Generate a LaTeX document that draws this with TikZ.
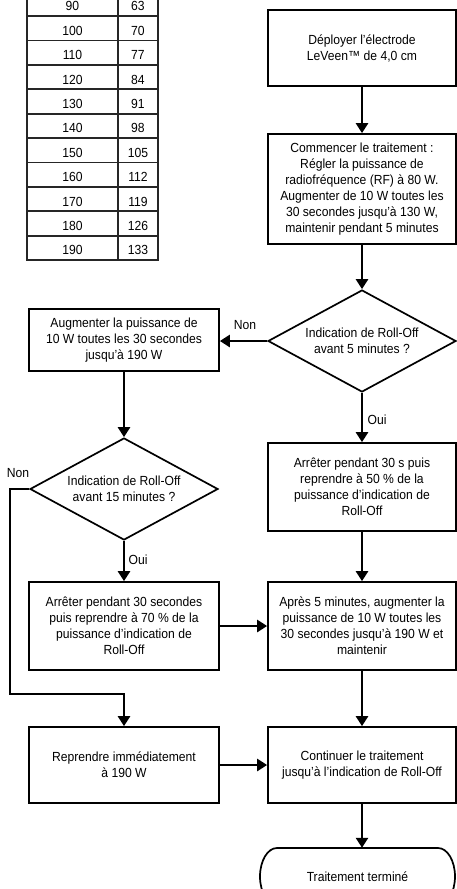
\documentclass[tikz,border=0pt]{standalone}
\usepackage{fontspec}
\setmainfont{Liberation Sans}[FakeStretch=0.92]
\usetikzlibrary{shapes.geometric,arrows.meta}
\tikzset{
 txt/.style={font=\fontsize{13.2}{16}\selectfont, align=center},
 box/.style={draw, line width=1.7pt, txt, inner sep=0pt, minimum width=188pt},
 lbox/.style={box, minimum width=190pt},
 dia/.style={draw, diamond, line width=1.7pt, inner sep=0pt, minimum width=188pt, minimum height=102pt},
 cell/.style={draw=black!85, line width=1.8pt, inner sep=0pt, minimum height=24.4pt, txt, text height=14pt, text depth=0pt},
 conn/.style={line width=2.6pt, -{Triangle[length=10pt,width=12pt]}},
 lbl/.style={txt, inner sep=0pt}
}
\begin{document}
\begin{tikzpicture}[x=1pt,y=-1pt]
\useasboundingbox (0,0) rectangle (457,889);
\clip (0,0) rectangle (457,889);
% table
\foreach \a/\b [count=\i from 0] in {90/63,100/70,110/77,120/84,130/91,140/98,150/105,160/112,170/119,180/126,190/133} {
  \node[cell, minimum width=91pt] (ta\i) at (72.5, {3.8+24.4*\i}) {\a};
  \node[cell, minimum width=40pt] (tb\i) at (138, {3.8+24.4*\i}) {\b};
}
% right column
\node[box, minimum height=76pt] (b1) at (362,48) {Déployer l’électrode\\LeVeen™ de 4,0 cm};
\node[box, minimum height=110pt] (b2) at (362,189) {Commencer le traitement :\\Régler la puissance de\\radiofréquence (RF) à 80 W.\\Augmenter de 10 W toutes les\\30 secondes jusqu’à 130 W,\\maintenir pendant 5 minutes};
\node[dia] (d1) at (362,341) {};
\node[txt] (d1t) at (d1) {Indication de Roll-Off\\avant 5 minutes ?};
\node[box, minimum height=88pt] (b6) at (362,487) {Arrêter pendant 30 s puis\\reprendre à 50 \% de la\\puissance d’indication de\\Roll-Off};
\node[box, minimum height=88pt] (b7) at (362,626) {Après 5 minutes, augmenter la\\puissance de 10 W toutes les\\30 secondes jusqu’à 190 W et\\maintenir};
\node[box, minimum height=76pt] (b8) at (362,765) {Continuer le traitement\\jusqu’à l’indication de Roll-Off};
\node[txt, minimum width=195pt, minimum height=57pt, inner sep=0pt] (t) at (357.5,876.5) {Traitement terminé};
\draw[line width=1.7pt] (277,848) -- (438,848) .. controls (447.4,848) and (455,860.8) .. (455,876.5)
  .. controls (455,892.2) and (447.4,905) .. (438,905) -- (277,905)
  .. controls (267.6,905) and (260,892.2) .. (260,876.5)
  .. controls (260,860.8) and (267.6,848) .. cycle;
% left column
\node[lbox, minimum height=62pt] (b3) at (124,340) {Augmenter la puissance de\\10 W toutes les 30 secondes\\jusqu’à 190 W};
\node[dia] (d2) at (124,489) {};
\node[txt] (d2t) at (d2) {Indication de Roll-Off\\avant 15 minutes ?};
\node[lbox, minimum height=88pt] (b4) at (124,626) {Arrêter pendant 30 secondes\\puis reprendre à 70 \% de la\\puissance d’indication de\\Roll-Off};
\node[lbox, minimum height=76pt] (b5) at (124,765) {Reprendre immédiatement\\à 190 W};
% labels
\node[lbl] (non1) at (245,325) {Non};
\node[lbl] (oui1) at (377,420) {Oui};
\node[lbl] (non2) at (18,473) {Non};
\node[lbl] (oui2) at (138,560) {Oui};
% connectors
\coordinate (c1) at (10,489);
\coordinate (c2) at (10,694);
\draw[conn] (b1) -- (b2);
\draw[conn] (b2) -- (d1);
\draw[conn] (d1.west) -- (d1.west -| b3.east);
\draw[conn] (b3) -- (d2);
\draw[conn] (d2) -- (b4);
\draw[conn] (d2.west) -- (c1) -- (c2) -| (b5.north);
\draw[conn] (d1) -- (b6);
\draw[conn] (b6) -- (b7);
\draw[conn] (b4) -- (b7);
\draw[conn] (b7) -- (b8);
\draw[conn] (b5) -- (b8);
\draw[conn] (b8.south) -- (b8.south |- t.north);
\end{tikzpicture}
\end{document}
